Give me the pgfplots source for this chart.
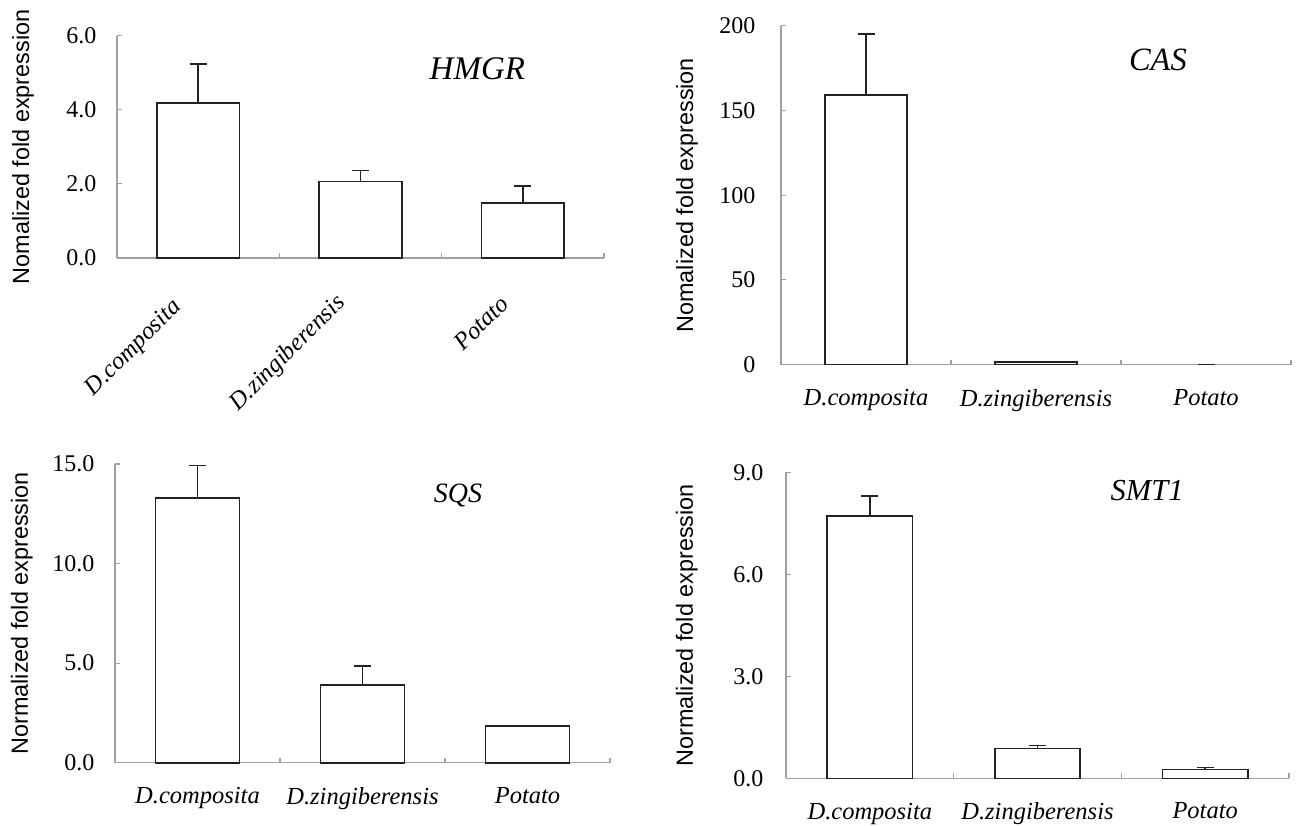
\documentclass[border=0pt]{standalone}
\usepackage{fontspec}
\setmainfont{Liberation Serif}
\newfontfamily\labsans{Liberation Sans}
\usepackage{pgfplots}
\pgfplotsset{compat=1.18}
\definecolor{axgray}{HTML}{A0A0A0}
\definecolor{barblack}{HTML}{222222}
\newcommand\tickfont{\fontsize{24}{28}\selectfont}
\newcommand\catfont{\fontsize{24.5}{28}\selectfont\itshape}
\newcommand\ylabfont{\labsans\fontsize{23.4}{27}\selectfont}
\pgfplotsset{
  panel/.style={
    scale only axis, ybar, bar width=0.51, bar shift=0pt,
    xmin=-0.5, xmax=2.5, ymin=0,
    axis x line*=bottom, axis y line*=left,
    axis line style={draw=axgray, line width=1.1pt},
    tick align=inside, major tick length=5pt,
    tick style={draw=axgray, line width=1.1pt},
    xtick={0.5,1.5,2.5}, xticklabels={},
    extra x ticks={0,1,2},
    extra x tick labels={D.composita,D.zingiberensis,Potato},
    extra x tick style={major tick length=0pt},
    xticklabel style={font=\catfont, yshift=-21pt},
    yticklabel style={font=\tickfont},
    /pgf/number format/assume math mode=true,
    ylabel style={font=\ylabfont, anchor=center},
    clip=false,
  },
  errs/.style={
    error bars/.cd, y dir=plus, y explicit,
    error bar style={line width=1.6pt, draw=barblack},
    error mark options={rotate=90, draw=barblack, mark size=8.5pt, line width=1.6pt}},
}
\begin{document}
\begin{tikzpicture}
\path[use as bounding box, fill=white] (0pt,0pt) rectangle (1296pt,825pt);

% HMGR
\begin{axis}[panel, at={(117pt,567pt)}, anchor=south west, width=487pt, height=222.3pt,
  ymax=6, ytick={0,2,4,6},
  yticklabel style={xshift=-17pt, /pgf/number format/.cd, fixed, fixed zerofill, precision=1},
  extra x tick labels={},
  ylabel={Nomalized fold expression},
  ylabel style={at={(axis description cs:-0.193,0.5)}}]
\addplot[draw=barblack, fill=white, line width=1.6pt, errs] coordinates {(0,4.18) +- (0,1.06) (1,2.06) +- (0,0.30) (2,1.48) +- (0,0.47)};
\node[font=\catfont, rotate=45] at (axis cs:-0.395,-2.44) {D.composita};
\node[font=\catfont, rotate=45] at (axis cs:0.554,-2.58) {D.zingiberensis};
\node[font=\catfont, rotate=45] at (axis cs:1.743,-1.76) {Potato};
\node[font=\fontsize{33}{36}\selectfont\itshape] at (axis description cs:0.74,0.852) {HMGR};
\end{axis}

% CAS
\begin{axis}[panel, at={(781pt,460.3pt)}, anchor=south west, width=510pt, height=339pt,
  ymax=200, ytick={0,50,100,150,200}, bar width=0.485,
  yticklabel style={xshift=-22pt},
  ylabel={Nomalized fold expression},
  ylabel style={at={(axis description cs:-0.184,0.5)}}]
\addplot[draw=barblack, fill=white, line width=1.6pt, errs] coordinates {(0,159.1) +- (0,36.0) (1,1.6) +- (0,0.3)};
\addplot[draw=none, fill=none, line width=1.6pt, errs] coordinates {(2,0.05) +- (0,0.1)};
\node[font=\fontsize{32.5}{36}\selectfont\itshape] at (axis description cs:0.739,0.899) {CAS};
\end{axis}

% SQS
\begin{axis}[panel, at={(115pt,62.3pt)}, anchor=south west, width=495pt, height=298.7pt,
  ymax=15, ytick={0,5,10,15},
  yticklabel style={xshift=-17pt, /pgf/number format/.cd, fixed, fixed zerofill, precision=1},
  ylabel={Normalized fold expression},
  ylabel style={at={(axis description cs:-0.188,0.5)}}]
\addplot[draw=barblack, fill=white, line width=1.6pt, errs] coordinates {(0,13.28) +- (0,1.65) (1,3.90) +- (0,0.97) (2,1.83) +- (0,0)};
\node[font=\fontsize{28}{32}\selectfont\itshape] at (axis description cs:0.693,0.893) {SQS};
\end{axis}

% SMT1
\begin{axis}[panel, at={(786pt,46.7pt)}, anchor=south west, width=503pt, height=306pt,
  ymax=9, ytick={0,3,6,9},
  yticklabel style={xshift=-19pt, /pgf/number format/.cd, fixed, fixed zerofill, precision=1},
  ylabel={Normalized fold expression},
  ylabel style={at={(axis description cs:-0.197,0.5)}}]
\addplot[draw=barblack, fill=white, line width=1.6pt, errs] coordinates {(0,7.72) +- (0,0.59) (1,0.88) +- (0,0.08) (2,0.26) +- (0,0.06)};
\node[font=\fontsize{30.5}{34}\selectfont\itshape] at (axis description cs:0.718,0.939) {SMT1};
\end{axis}
\end{tikzpicture}
\end{document}
